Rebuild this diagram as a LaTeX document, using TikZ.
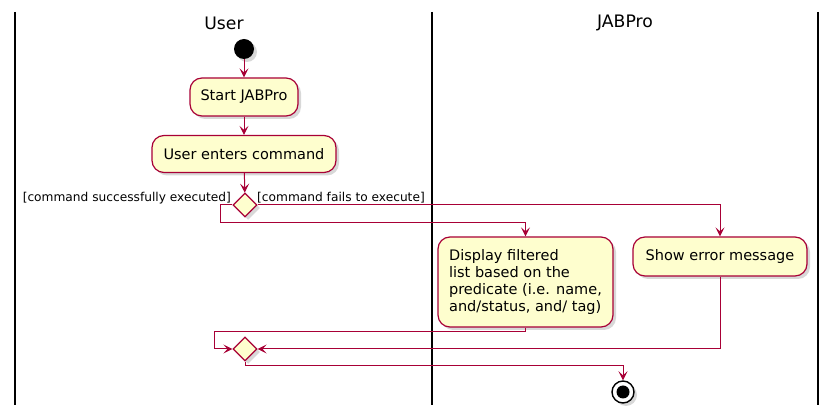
\documentclass[tikz,border=0pt]{standalone}
\usepackage{fontspec}
\setmainfont{DejaVu Sans}
\usetikzlibrary{shapes.geometric,arrows.meta,shadows}
\definecolor{umlred}{HTML}{A80036}
\definecolor{umlfill}{HTML}{FEFECE}
\tikzset{
	act/.style={draw=umlred,fill=umlfill,line width=1.2pt,rounded corners=12pt,
		minimum height=38pt,inner xsep=10pt,font=\fontsize{14.5}{17.3}\selectfont,
		drop shadow={opacity=0.3,shadow xshift=3pt,shadow yshift=-3pt}},
	decision/.style={diamond,draw=umlred,fill=umlfill,line width=1.2pt,
		minimum width=24pt,minimum height=24pt,inner sep=0pt,
		drop shadow={opacity=0.3,shadow xshift=3pt,shadow yshift=-3pt}},
	flow/.style={draw=umlred,line width=1pt,-{Stealth[length=9pt,width=9pt,inset=4pt]}},
	guard/.style={font=\fontsize{12.2}{14}\selectfont,inner sep=0pt},
	lane/.style={line width=1.6pt,black},
	lanetitle/.style={font=\fontsize{17.2}{20}\selectfont,inner sep=0pt}
}
\begin{document}
\begin{tikzpicture}[x=1pt,y=-1pt]
	\useasboundingbox[fill=white] (0,0) rectangle (836,419);
	% swimlanes
	\draw[lane] (15,12) -- (15,405);
	\draw[lane] (432,12) -- (432,405);
	\draw[lane] (818,12) -- (818,405);
	\node[lanetitle] (usertitle) at (224,23) {User};
	\node[lanetitle] (apptitle) at (625,23) {JABPro};
	% activities
	\node[circle,fill=black,minimum size=20pt,inner sep=0pt,
		drop shadow={opacity=0.3,shadow xshift=3pt,shadow yshift=-3pt}] (init) at (244,49) {};
	\node[act,minimum width=108pt] (launch) at (244,97) {Start JABPro};
	\node[act,minimum width=184pt,minimum height=37pt] (cmd) at (244,154) {User enters command};
	\node[decision] (split) at (245,205) {};
	\node[act,minimum width=175pt,minimum height=90pt,align=left] (display) at (525.5,282)
		{Display filtered\\list based on the\\predicate (i.e. name,\\and/status, and/ tag)};
	\node[act,minimum width=174pt,minimum height=39pt] (error) at (720,256.5) {Show error message};
	\node[decision] (merge) at (245,349) {};
	\node[circle,draw=black,fill=white,line width=1.4pt,minimum size=22pt,inner sep=0pt,
		drop shadow={opacity=0.3,shadow xshift=3pt,shadow yshift=-3pt}] (final) at (623,392) {};
	\node[circle,fill=black,minimum size=13pt,inner sep=0pt] (finaldot) at (final) {};
	% guards
	\node[guard,anchor=east] (oklabel) at (231,198) {[command successfully executed]};
	\node[guard,anchor=west] (faillabel) at (257,198) {[command fails to execute]};
	% connectors
	\coordinate (lbend) at (220,223);
	\coordinate (mbend) at (214,332);
	\draw[flow] (init) -- (launch);
	\draw[flow] (launch) -- (cmd);
	\draw[flow] (cmd) -- (split);
	\draw[flow] (split.west) -| (lbend) -| (display.north);
	\draw[flow] (split.east) -| (error.north);
	\draw[flow] (display.south) |- (mbend) |- (merge.west);
	\draw[flow] (error.south) |- (merge.east);
	\draw[flow] (merge.south) -- ++(0,4) -| (final.north);
\end{tikzpicture}
\end{document}
